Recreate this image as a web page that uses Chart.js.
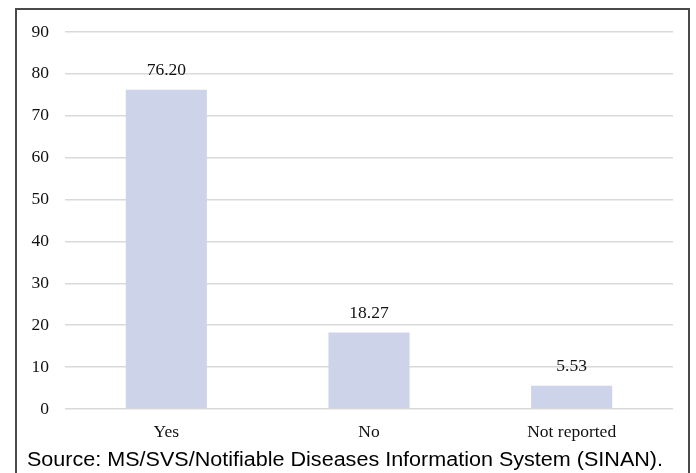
<!DOCTYPE html>
<html>
<head>
<meta charset="utf-8">
<script src="https://cdn.jsdelivr.net/npm/chart.js@4"></script>
<style>
  html, body { margin: 0; padding: 0; background: #fff; }
  body { width: 696px; height: 473px; position: relative; overflow: hidden; }
  #frame {
    position: absolute; left: 15px; top: 8px; width: 671px; height: 480px;
    border: 2px solid #4a4a4a; border-bottom: none;
  }
  #wrap { position: absolute; left: 0; top: 0; width: 696px; height: 473px; }
  #source {
    position: absolute; left: 27px; top: 447px; white-space: nowrap;
    font-family: "Liberation Sans", Arial, sans-serif; font-size: 19.5px; color: #000;
    line-height: 24px; transform-origin: 0 50%;
  }
</style>
</head>
<body>
<div id="frame"></div>
<div id="wrap"><canvas id="chart" width="696" height="473"></canvas></div>
<div id="source">Source: MS/SVS/Notifiable Diseases Information System (SINAN).</div>
<script>
const categories = ["Yes", "No", "Not reported"];
const percentages = [76.20, 18.27, 5.53];
const yTicks = [0, 10, 20, 30, 40, 50, 60, 70, 80, 90];

const serif = '"Liberation Serif", "Times New Roman", serif';

// widen the source line slightly so it spans the frame
const src = document.getElementById('source');
const srcWidth = src.getBoundingClientRect().width;
src.style.transform = 'scaleX(' + (636 / srcWidth).toFixed(4) + ')';

// value labels above each bar
const barValueLabels = {
  id: 'barValueLabels',
  afterDatasetsDraw(chart) {
    const ctx = chart.ctx;
    const meta = chart.getDatasetMeta(0);
    ctx.save();
    ctx.font = '17.5px ' + serif;
    ctx.fillStyle = '#111';
    ctx.textAlign = 'center';
    ctx.textBaseline = 'middle';
    meta.data.forEach((bar, i) => {
      ctx.fillText(percentages[i].toFixed(2), bar.x, bar.y - 19);
    });
    ctx.restore();
  }
};

new Chart(document.getElementById('chart'), {
  type: 'bar',
  data: {
    labels: categories,
    datasets: [{
      data: percentages,
      backgroundColor: '#cdd3e8',
      borderWidth: 0,
      categoryPercentage: 1.0,
      barPercentage: 0.4
    }]
  },
  options: {
    responsive: false,
    animation: false,
    devicePixelRatio: 1,
    layout: { padding: { top: 32, right: 23, bottom: 24, left: 0 } },
    plugins: { legend: { display: false }, tooltip: { enabled: false } },
    scales: {
      x: {
        grid: { display: false, drawTicks: false },
        border: { display: false },
        ticks: { color: '#111', font: { family: serif, size: 17.5 }, padding: 13 },
        afterFit(scale) { scale.height = 40; }
      },
      y: {
        min: 0, max: 90,
        afterBuildTicks(scale) { scale.ticks = yTicks.map(v => ({ value: v })); },
        grid: { color: '#d9d9d9', lineWidth: 1.5, drawTicks: false },
        border: { display: false },
        ticks: { color: '#111', font: { family: serif, size: 17.5 }, padding: 16 },
        afterFit(scale) { scale.width = 65; }
      }
    }
  },
  plugins: [barValueLabels]
});
</script>
</body>
</html>
